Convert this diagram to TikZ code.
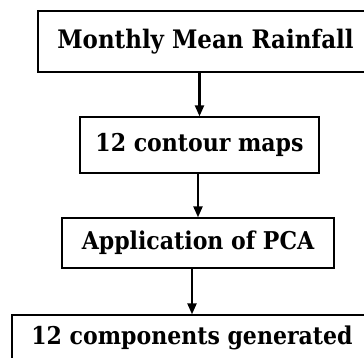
\documentclass[tikz,border=0pt]{standalone}
\usepackage{fontspec}
\setmainfont{DejaVu Serif Condensed}
\usetikzlibrary{arrows.meta}

\tikzset{
  stage/.style={draw=black,line width=1.3pt,inner sep=0pt,
    font=\fontsize{24.5}{28}\selectfont\bfseries},
  flow/.style={line width=2.2pt,-{Triangle[width=9pt,length=11pt]},
    preaction={draw=white,line width=5pt,shorten <=4pt}}
}

\begin{document}
\begin{tikzpicture}[x=1pt,y=-1pt]
   \useasboundingbox (0,0) rectangle (364,358);
   \clip (0,0) rectangle (364,358);
   % the four stages, top to bottom
   \node[stage,font=\fontsize{25.5}{28}\selectfont\bfseries,minimum width=335pt,minimum height=61pt] (rain) at (205.5,41.5) {Monthly Mean Rainfall};
   \node[stage,minimum width=239pt,minimum height=56pt] (maps) at (199.5,145) {12 contour maps};
   \node[stage,minimum width=272pt,minimum height=50pt] (pca)  at (198,243) {Application of PCA};
   \node[stage,minimum width=360pt,minimum height=46pt] (comp) at (192,338) {12 components generated};
   % arrows between them
   \draw[flow] (rain.south -| maps.north) -- (maps.north);
   \draw[flow] (maps.south -| pca.north) -- (pca.north);
   \draw[flow] (pca.south -| comp.north) -- (comp.north);
\end{tikzpicture}
\end{document}
